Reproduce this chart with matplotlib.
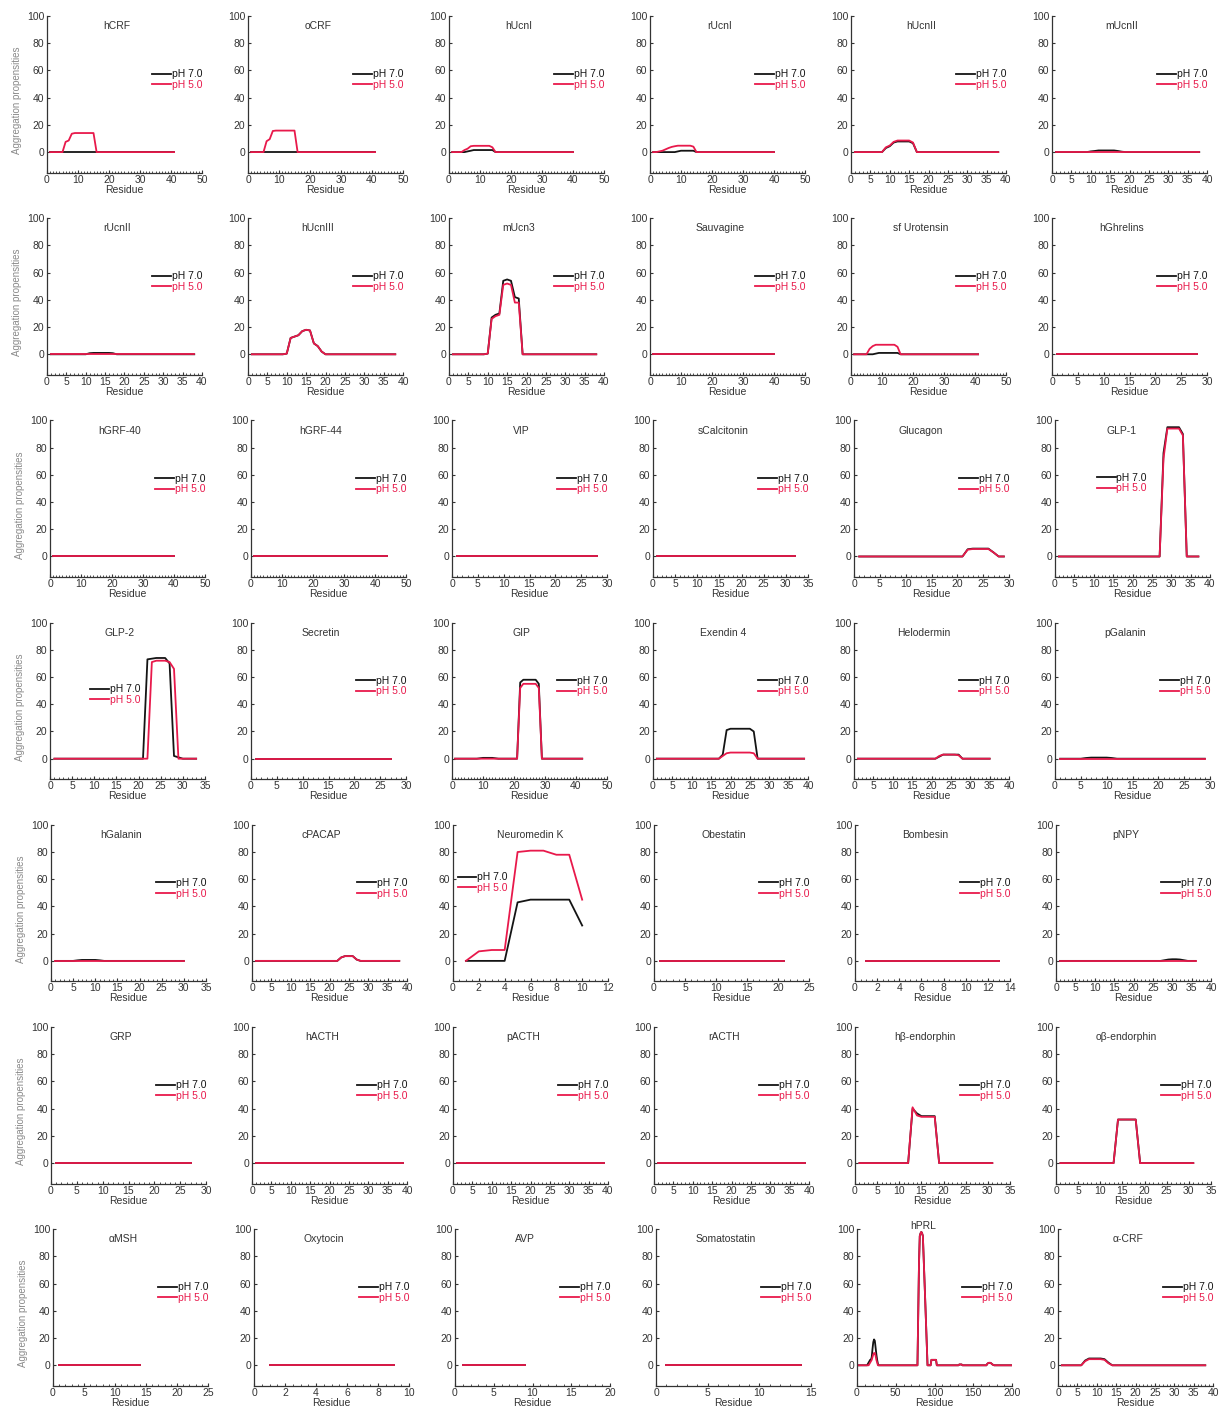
import numpy as np
import matplotlib
matplotlib.use("Agg")
import matplotlib.pyplot as plt
from matplotlib.ticker import MultipleLocator
from matplotlib.lines import Line2D

plt.rcParams['font.family'] = ['Liberation Sans', 'DejaVu Sans']

# Peptide panels, read left-to-right, top-to-bottom
titles = [
    "hCRF", "oCRF", "hUcnI", "rUcnI", "hUcnII", "mUcnII",
    "rUcnII", "hUcnIII", "mUcn3", "Sauvagine", "sf Urotensin", "hGhrelins",
    "hGRF-40", "hGRF-44", "VIP", "sCalcitonin", "Glucagon", "GLP-1",
    "GLP-2", "Secretin", "GIP", "Exendin 4", "Helodermin", "pGalanin",
    "hGalanin", "cPACAP", "Neuromedin K", "Obestatin", "Bombesin", "pNPY",
    "GRP", "hACTH", "pACTH", "rACTH", "hβ-endorphin", "oβ-endorphin",
    "αMSH", "Oxytocin", "AVP", "Somatostatin", "hPRL", "α-CRF",
]

residue_counts = [
    41, 41, 40, 40, 38, 38,
    38, 38, 38, 40, 41, 28,
    40, 44, 28, 32, 29, 37,
    33, 27, 42, 39, 35, 29,
    30, 38, 10, 21, 13, 36,
    27, 39, 39, 39, 31, 31,
    14, 9, 9, 14, 199, 38,
]

x_max = [
    50, 50, 50, 50, 40, 40,
    40, 40, 40, 50, 50, 30,
    50, 50, 30, 35, 30, 40,
    35, 30, 50, 40, 40, 30,
    35, 40, 12, 25, 14, 40,
    30, 40, 40, 40, 35, 35,
    25, 10, 20, 15, 200, 40,
]

x_step = [
    10, 10, 10, 10, 5, 5,
    5, 5, 5, 10, 10, 5,
    10, 10, 5, 5, 5, 5,
    5, 5, 10, 5, 5, 5,
    5, 5, 2, 5, 2, 5,
    5, 5, 5, 5, 5, 5,
    5, 2, 5, 5, 50, 5,
]

# Aggregation propensity profiles: (first residue, values); other residues are 0
ph7_segments = [
    [], [],
    [(6, [0.5, 1, 1.5, 1.5, 1.5, 1.5, 1.5, 1.5, 1.5])],
    [(9, [0.5, 1, 1, 1, 1, 1])],
    [(9, [3, 4.3, 7, 7.8, 7.8, 7.8, 7.8, 6.5])],
    [(10, [0.5, 0.8, 1.2, 1.2, 1.2, 1.2, 1.2, 0.8, 0.3])],
    [(11, [0.8, 1, 1, 1, 1, 1, 0.8])],
    [(10, [0.5, 12, 13, 14, 17, 18, 17.5, 8, 6, 2])],
    [(10, [0.5, 27, 29, 30, 54, 55, 54, 42, 41])],
    [],
    [(8, [0.5, 1, 1, 1, 1, 1, 1, 1])],
    [],
    [], [], [], [],
    [(22, [5.3, 5.8, 5.8, 5.8, 5.8, 3])],
    [(28, [76, 95, 95, 95, 95, 90])],
    [(22, [73, 73.5, 74, 74, 74, 70, 2, 1])],
    [],
    [(9, [0.3, 0.6, 0.6, 0.6, 0.6, 0.3]), (22, [56, 58, 58, 58, 58, 58, 55])],
    [(18, [3, 21, 22, 22, 22, 22, 22, 22, 20])],
    [(22, [1.5, 3, 3, 3, 3, 3])],
    [(6, [0.5, 0.8, 0.8, 0.8, 0.8, 0.5])],
    [(6, [0.4, 0.7, 0.7, 0.7, 0.7, 0.4])],
    [(23, [2.5, 3.5, 3.5, 3.5, 1])],
    [(5, [43, 45, 45, 45, 45, 26])],
    [], [],
    [(28, [0.5, 1, 1.2, 1.2, 1, 0.5])],
    [], [], [], [],
    [(13, [40, 36.5, 34.5, 34.5, 34.5, 34.5])],
    [(14, [32, 32, 32, 32, 32])],
    [], [], [], [],
    [(14, [1, 2, 3, 4, 4, 6, 12, 17, 19, 18, 13, 8, 4, 1]),
     (79, [35, 75, 95, 97, 98, 97, 95, 80, 64, 48, 32, 16]),
     (96, [4, 4, 4, 4, 4, 4, 4]),
     (132, [0.6, 0.6, 0.6, 0.6]),
     (168, [1, 1.5, 1.8, 1.8, 1.8, 1.5, 1, 0.5, 0.3])],
    [(7, [3.5, 5, 5, 5, 5, 4.5, 2])],
]

ph5_segments = [
    [(6, [7.5, 8.5, 13.5, 14, 14, 14, 14, 14, 14, 14])],
    [(6, [8, 9.5, 15.5, 15.8, 15.8, 15.8, 15.8, 15.8, 15.8, 15.8])],
    [(5, [1.5, 2.5, 4.3, 4.6, 4.6, 4.6, 4.6, 4.6, 4.6, 3.5])],
    [(3, [0.5, 1, 2, 3, 3.8, 4.3, 4.7, 4.7, 4.7, 4.7, 4.7, 4])],
    [(9, [3.5, 4.8, 7.5, 8.5, 8.5, 8.5, 8.5, 7])],
    [],
    [],
    [(10, [0.5, 12, 13, 14, 17, 18, 17.5, 8, 6, 2])],
    [(10, [0.5, 26, 28, 29, 51, 52, 51, 38, 38])],
    [],
    [(6, [4, 6, 7, 7, 7, 7, 7, 7, 7, 5.5])],
    [],
    [], [], [], [],
    [(22, [5, 5.5, 5.5, 5.5, 5.5, 3])],
    [(28, [72, 94, 94, 94, 94, 89])],
    [(23, [71, 72, 72, 72, 71, 66])],
    [],
    [(22, [52, 55, 55, 55, 55, 55, 52])],
    [(18, [2, 4, 4.5, 4.5, 4.5, 4.5, 4.5, 4.5, 4])],
    [(22, [2, 3, 3, 3, 3, 2.5])],
    [],
    [],
    [(23, [2.5, 3.5, 3.5, 3.5, 1])],
    [(2, [7, 8, 8, 80, 81, 81, 78, 78, 45])],
    [], [],
    [],
    [], [], [], [],
    [(13, [41, 35, 34, 34, 34, 34])],
    [(14, [32, 32, 32, 32, 32])],
    [], [], [], [],
    [(16, [1, 2, 3, 4, 6, 8, 9, 9, 7, 4, 2]),
     (79, [35, 75, 95, 97, 98, 97, 95, 80, 64, 48, 32, 16]),
     (96, [4, 4, 4, 4, 4, 4, 4]),
     (132, [0.6, 0.6, 0.6, 0.6]),
     (168, [1, 1.5, 1.8, 1.8, 1.8, 1.5, 1, 0.5, 0.3])],
    [(7, [3, 4.5, 4.5, 4.5, 4.5, 4, 1.5])],
]

# legend anchor (x, y in axes fraction) for panels whose legend sits on the left
legend_anchor_special = {"GLP-1": (0.27, 0.60), "GLP-2": (0.26, 0.54),
                         "Neuromedin K": (0.03, 0.63)}
title_y_special = {"hPRL": 1.02, "Neuromedin K": 0.935}
title_x_special = {"Neuromedin K": 0.50, "hPRL": 0.43, "Glucagon": 0.43, "GLP-1": 0.43}

BLACK = "#141414"
RED = "#e8194b"
TEXT = "#333333"


def profile(n, segments):
    y = np.zeros(n)
    for start, vals in segments:
        y[start - 1:start - 1 + len(vals)] = vals
    return y


W, H = 1219, 1413
fig = plt.figure(figsize=(W / 100, H / 100), dpi=100)
fig.patch.set_facecolor("white")

row_left = [47, 47, 50, 50, 51, 51, 53]
col_pitch = 201
ax_w = 155
row_top0 = 16
row_pitch = 202.2
ax_h = 156.5

for i, title in enumerate(titles):
    r, c = divmod(i, 6)
    left = row_left[r] + c * col_pitch
    top = row_top0 + r * row_pitch
    ax = fig.add_axes([left / W, 1 - (top + ax_h) / H, ax_w / W, ax_h / H])

    n = residue_counts[i]
    res = np.arange(1, n + 1)
    y7 = profile(n, ph7_segments[i])
    y5 = profile(n, ph5_segments[i])
    ax.plot(res, y7, color=BLACK, lw=1.3, solid_joinstyle="round")
    ax.plot(res, y5, color=RED, lw=1.3, solid_joinstyle="round")

    ax.set_xlim(0, x_max[i])
    ax.set_ylim(-15, 100)
    ax.xaxis.set_major_locator(MultipleLocator(x_step[i]))
    minor = {10: 1, 5: 1, 2: 0.5, 50: 10}[x_step[i]]
    ax.xaxis.set_minor_locator(MultipleLocator(minor))
    ax.set_yticks([0, 20, 40, 60, 80, 100])

    for side in ("top", "right"):
        ax.spines[side].set_visible(False)
    for side in ("left", "bottom"):
        ax.spines[side].set_color(TEXT)
        ax.spines[side].set_linewidth(0.9)

    ax.tick_params(axis="both", which="major", direction="in", length=2.5,
                   width=0.8, color=TEXT, labelsize=7.5, labelcolor=TEXT)
    ax.tick_params(axis="x", which="major", pad=1.5)
    ax.tick_params(axis="y", which="major", pad=2)
    ax.tick_params(axis="x", which="minor", direction="in", length=1.5,
                   width=0.6, color=TEXT)

    ax.set_xlabel("Residue", fontsize=7.5, color=TEXT, labelpad=0)
    if c == 0:
        ax.set_ylabel("Aggregation propensities", fontsize=7, color="#8a8a8a")
        ax.yaxis.set_label_coords(-0.16, 0.46)

    tx = title_x_special.get(title, 0.45)
    ty = title_y_special.get(title, 0.935)
    ax.text(tx, ty, title, transform=ax.transAxes, ha="center", va="center",
            fontsize=7.5, color=TEXT)

    handles = [Line2D([], [], color=BLACK, lw=1.3),
               Line2D([], [], color=RED, lw=1.3)]
    anchor = legend_anchor_special.get(title, (0.68, 0.594))
    leg = ax.legend(handles, ["pH 7.0", "pH 5.0"], loc="center left",
                    bbox_to_anchor=anchor, frameon=False, fontsize=7.5,
                    handlelength=1.8, handletextpad=0.05, labelspacing=0.05,
                    borderaxespad=0, borderpad=0)
    leg.get_texts()[0].set_color(BLACK)
    leg.get_texts()[1].set_color(RED)

fig.savefig("out.png", dpi=100, facecolor="white")
